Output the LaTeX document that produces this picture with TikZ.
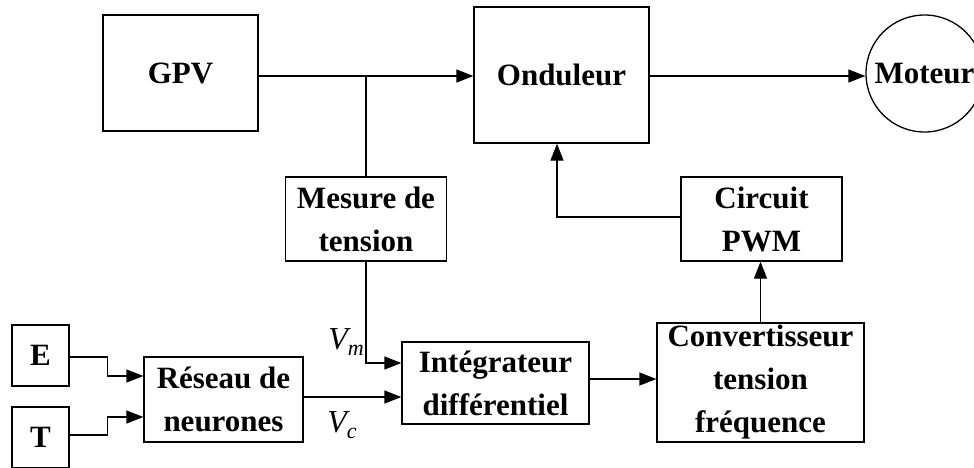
\documentclass[tikz,border=0pt]{standalone}
\usepackage{fontspec}
\setmainfont{Liberation Serif}
\usetikzlibrary{arrows.meta}

\begin{document}
\begin{tikzpicture}[x=1pt,y=-1pt,line width=1.3pt,
  font=\fontsize{31}{43}\selectfont\bfseries,
  bloc/.style={draw,rectangle,align=center,inner sep=0pt},
  etiq/.style={font=\fontsize{32}{36}\selectfont\itshape},
  fleche/.style={-{Triangle[length=17pt,width=13pt]}}]
\useasboundingbox (0,0) rectangle (974,467);
\node[bloc,minimum width=155pt,minimum height=116pt] (gpv) at (180.5,73) {GPV};
\node[bloc,minimum width=175pt,minimum height=136pt] (ond) at (561.5,75) {Onduleur};
\node[draw,circle,minimum size=117pt,inner sep=0pt] (mot) at (924.5,73.5) {Moteur};
\node[bloc,minimum width=161pt,minimum height=84pt] (mes) at (366,219) {Mesure de\\tension};
\node[bloc,minimum width=161pt,minimum height=84pt] (pwm) at (761.5,219) {Circuit\\PWM};
\node[bloc,minimum width=187pt,minimum height=82pt] (integ) at (495.5,383) {Intégrateur\\différentiel};
\node[bloc,minimum width=207pt,minimum height=119pt] (conv) at (760.5,382.5) {Convertisseur\\tension\\fréquence};
\node[bloc,minimum width=159pt,minimum height=85pt] (res) at (223.5,399.5) {Réseau de\\neurones};
\node[bloc,minimum width=57pt,minimum height=61pt] (e) at (40.5,355.5) {E};
\node[bloc,minimum width=57pt,minimum height=61pt] (t) at (40.5,437.5) {T};
\node[etiq] (vm) at (346,342) {V\raisebox{-6pt}{\fontsize{22}{24}\selectfont m}};
\node[etiq] (vc) at (342,425) {V\raisebox{-6pt}{\fontsize{22}{24}\selectfont c}};
\coordinate (br) at (366,76);
% liaisons
\draw[fleche] (gpv.east|-br) -- (ond.west|-br);
\draw (br) -- (mes.north);
\draw[fleche] (mes.south) |- (integ.west|-0,363);
\draw[fleche] (res.east|-0,397) -- (integ.west|-0,397);
\draw[fleche] (e.east|-0,357) -- ++(38,0) |- (res.west|-0,376);
\draw[fleche] (t.east|-0,435) -- ++(38,0) |- (res.west|-0,417);
\draw[fleche] (integ.east|-0,379) -- (conv.west|-0,379);
\draw[fleche] (conv.north) -- (conv.north|-pwm.south);
\draw[fleche] (pwm.west|-0,217) -| (ond.south-|557,0);
\draw[fleche] (ond.east|-br) -- (mot.west|-br);
\end{tikzpicture}
\end{document}
